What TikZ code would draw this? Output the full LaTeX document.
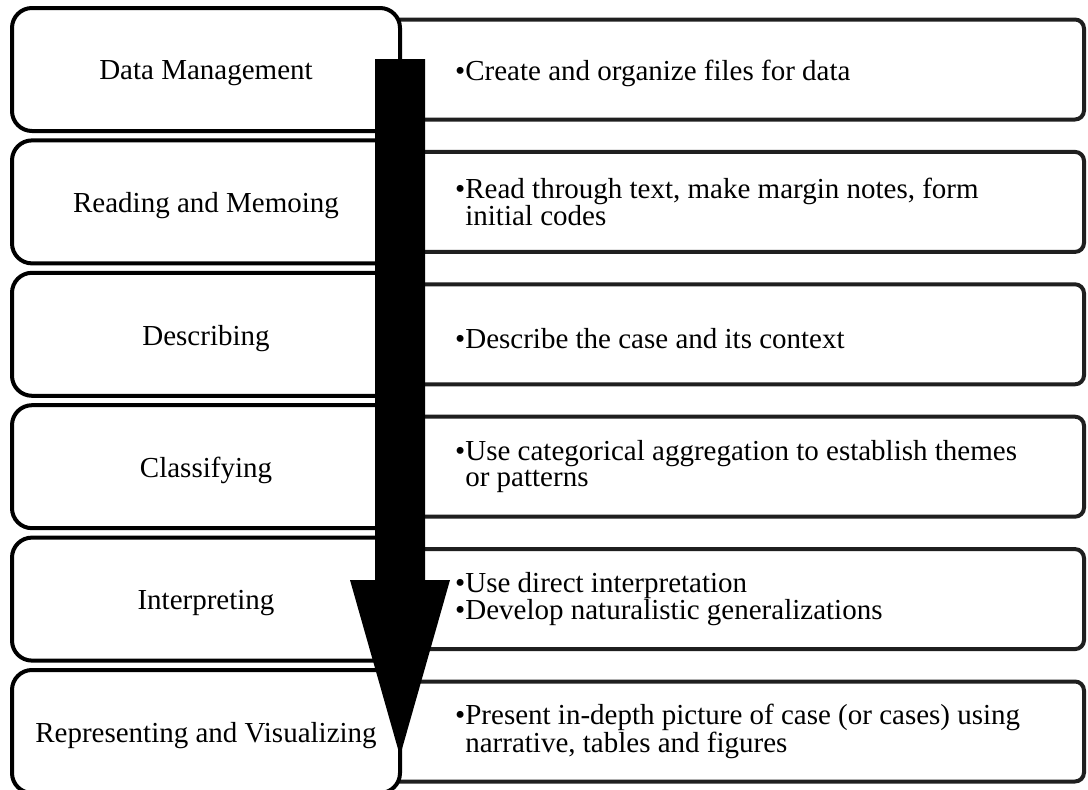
\documentclass[tikz,border=0pt]{standalone}
\usepackage{fontspec}
\setmainfont{Liberation Serif}
\begin{document}
\begin{tikzpicture}[x=1pt,y=-1pt,
  lbox/.style={draw=black,line width=4pt,fill=white,rounded corners=20pt,
    minimum width=388pt,minimum height=123pt,inner sep=0pt},
  ltext/.style={inner sep=0pt,align=center,yshift=-4pt,
    font=\fontsize{29}{27}\selectfont},
  rbox/.style={draw=black!88,line width=4pt,fill=white,rounded corners=9pt,
    minimum width=784pt,minimum height=100pt,inner sep=0pt},
  rtext/.style={anchor=west,inner sep=0pt,align=left,
    font=\fontsize{29}{26.5}\selectfont},
  oneline/.style={yshift=-4pt},
  bigarrow/.style={fill=black,draw=none}]
\useasboundingbox (0,0) rectangle (1088,790);
% right boxes
\node[rbox] (r1) at (692,69.5) {};
\node[rbox] (r2) at (692,201.9) {};
\node[rbox] (r3) at (692,334.3) {};
\node[rbox] (r4) at (692,466.7) {};
\node[rbox] (r5) at (692,599.1) {};
\node[rbox] (r6) at (692,731.5) {};
% left boxes
\node[lbox] (l1) at (206,69.5) {};
\node[lbox] (l2) at (206,201.9) {};
\node[lbox] (l3) at (206,334.3) {};
\node[lbox] (l4) at (206,466.7) {};
\node[lbox] (l5) at (206,599.1) {};
\node[lbox] (l6) at (206,731.5) {};
\node[ltext] (lt1) at (l1) {Data Management};
\node[ltext] (lt2) at (l2) {Reading and Memoing};
\node[ltext] (lt3) at (l3) {Describing};
\node[ltext] (lt4) at (l4) {Classifying};
\node[ltext] (lt5) at (l5) {Interpreting};
\node[ltext] (lt6) at (l6) {Representing and Visualizing};
% big arrow
\fill[bigarrow] (375,59) -- (425,59) -- (425,580) -- (450,580) -- (400,756)
  -- (350,580) -- (375,580) -- cycle;
% right texts
\node[rtext,oneline] (t1) at (455,69.5) {•Create and organize files for data};
\node[rtext] (t2) at (455,201.9) {•Read through text, make margin notes, form\\\phantom{•}initial codes};
\node[rtext,oneline] (t3) at (455,334.3) {•Describe the case and its context};
\node[rtext] (t4) at (455,466.7) {•Use categorical aggregation to establish themes\\\phantom{•}or patterns};
\node[rtext] (t5) at (455,599.1) {•Use direct interpretation\\•Develop naturalistic generalizations};
\node[rtext] (t6) at (455,731.5) {•Present in-depth picture of case (or cases) using\\\phantom{•}narrative, tables and figures};
\end{tikzpicture}
\end{document}
